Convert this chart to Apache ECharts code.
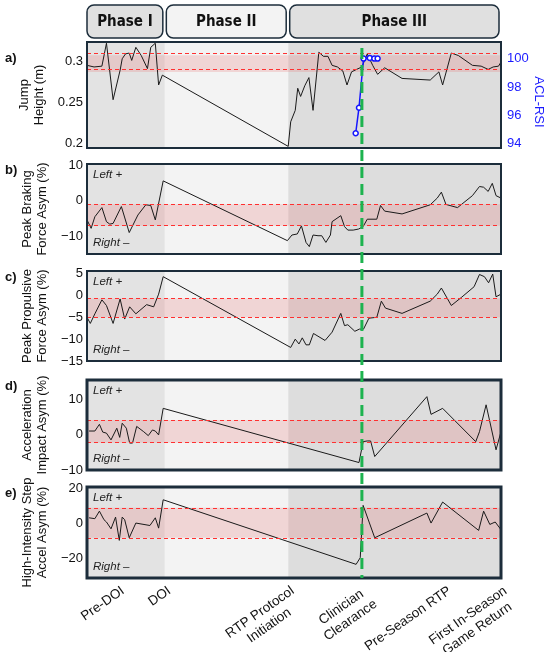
<!DOCTYPE html>
<html>
<head>
<meta charset="utf-8">
<script src="https://cdn.jsdelivr.net/npm/echarts@6/dist/echarts.min.js"></script>
<style>
  html, body { margin: 0; padding: 0; background: #fff; }
  #chart { width: 550px; height: 652px; }
</style>
</head>
<body>
<div id="chart"></div>
<script>
// x runs 0..100 over the whole timeline
const phaseNames = ['Phase I', 'Phase II', 'Phase III'];
const phaseBounds = [0, 18.8, 48.6, 100];
const phaseColors = ['#e3e3e3', '#f3f3f3', '#dddddd'];
const tickPos = [7.6, 18.8, 48.6, 66.4, 86.5, 100];
const tickLabels = ['Pre-DOI', 'DOI', 'RTP Protocol\nInitiation', 'Clinician\nClearance', 'Pre-Season RTP', 'First In-Season\nGame Return'];
const clearanceX = 66.4;

const jumpHeight = [[0,0.295],[1.7,0.293],[3.6,0.294],[4.7,0.322],[6.3,0.253],[8.0,0.289],[8.5,0.303],[9.3,0.309],[10.2,0.310],[10.8,0.301],[11.8,0.317],[13.1,0.307],[14.6,0.291],[15.4,0.317],[16.5,0.322],[17.3,0.271],[18.2,0.283],
  [48.6,0.196],[49.2,0.226],[50.3,0.240],[50.9,0.267],[51.6,0.257],[52.6,0.270],[53.6,0.280],[54.6,0.240],[56.0,0.311],[57.1,0.306],[58.2,0.306],[59.2,0.295],[60.5,0.293],[61.8,0.288],[62.8,0.271],[63.9,0.287],[65.1,0.290],[66.4,0.293],[67.7,0.309],[69.0,0.295],[70.2,0.284],[71.9,0.292],[76.1,0.279],[82.9,0.277],[85.0,0.287],[85.9,0.271],[88.0,0.310],[89.7,0.307],[93.1,0.295],[95.2,0.294],[96.9,0.290],[98.1,0.293],[99.4,0.294],[100,0.299]];
const aclRsi = [[64.9,94.74],[65.7,96.54],[66.8,100],[68.3,100.05],[69.4,100],[70.2,100]];
const brakingAsym = [[0,-5.4],[1.0,-7.8],[1.9,-4.5],[3.6,-1.9],[4.7,-5.9],[5.5,-6.6],[6.3,-6.4],[8.3,-1.6],[10.2,-9.0],[12.3,-4.0],[14.2,-1.1],[15.4,-1.3],[16.5,-5.4],[18.4,5.7],
  [48.4,-11.3],[49.5,-9.7],[50.8,-9.4],[51.8,-7.1],[52.9,-11.8],[53.7,-13.0],[54.6,-9.7],[55.8,-9.9],[56.7,-9.9],[57.7,-11.8],[58.8,-9.7],[59.2,-5.9],[61.3,-4.2],[62.2,-7.3],[63.0,-8.3],[64.3,-8.3],[65.6,-8.0],[66.7,-7.3],[67.7,-5.2],[70.0,-5.2],[70.9,-1.3],[71.9,-2.9],[76.1,-3.7],[82.9,-1.1],[84.6,0.8],[85.6,2.5],[86.7,-1.0],[89.5,-1.9],[93.1,1.5],[94.8,4.1],[95.8,3.9],[96.9,2.7],[97.9,5.0],[98.8,1.5],[100,0.8]];
const propulsiveAsym = [[0,-5.0],[0.8,-6.4],[1.9,-4.2],[3.6,-1.0],[4.7,-2.3],[6.3,-6.4],[8.0,-0.8],[9.1,-5.4],[10.3,-2.6],[11.8,-4.2],[14.4,-2.1],[16.1,-2.6],[17.3,0.3],[18.4,4.3],
  [49.2,-11.9],[50.3,-10.0],[51.2,-11.1],[52.0,-9.7],[52.9,-11.3],[53.7,-11.3],[54.7,-8.7],[57.5,-10.3],[59.2,-8.4],[61.3,-4.1],[62.2,-6.9],[63.0,-6.7],[64.7,-8.2],[65.8,-7.7],[66.8,-7.7],[68.1,-5.2],[70.0,-5.0],[71.1,-1.3],[72.1,-2.9],[76.1,-4.1],[82.9,-1.3],[84.6,0.3],[85.6,1.7],[88.0,-2.3],[90.5,-0.4],[93.5,2.0],[94.8,4.8],[96.0,4.3],[97.0,2.9],[98.0,4.9],[98.8,-0.3],[100,0.3]];
const accelImpactAsym = [[0.5,1.0],[1.9,1.0],[3.0,2.9],[3.8,0.7],[4.7,0.4],[5.8,-1.5],[7.2,1.8],[7.9,-0.8],[8.5,3.2],[9.5,1.8],[10.3,-2.4],[11.0,-2.4],[12.0,2.3],[13.7,0.8],[14.8,-0.3],[15.8,1.3],[16.5,1.0],[17.3,-0.1],[18.4,7.4],
  [65.7,-7.9],[66.7,-2.0],[67.7,-1.8],[68.5,-1.8],[69.5,-6.2],[82.1,10.7],[83.1,5.7],[85.9,7.4],[93.9,-2.0],[94.8,0.8],[96.4,8.4],[98.8,-4.3],[100,0.8]];
const stepAccelAsym = [[0.5,3.4],[1.9,2.9],[3.0,7.2],[4.1,2.3],[4.7,1.0],[5.8,-2.9],[6.9,3.8],[7.8,-9.5],[8.5,3.8],[9.1,2.3],[10.2,-8.0],[11.8,0.4],[15.2,-1.0],[16.5,3.4],[17.3,-2.5],[18.4,13.7],
  [65.0,-23.2],[66.0,-19.4],[66.7,10.5],[69.5,-8.0],[82.1,6.1],[83.1,0.4],[85.9,12.4],[94.6,-3.8],[95.8,7.2],[97.3,-0.4],[98.6,1.0],[100,-3.4]];

// normal-range bands [low, high]
const jumpBand = [0.2868, 0.3072];
const brakingBand = [-7.05, -0.95];
const propulsiveBand = [-5.0, -0.7];
const impactBand = [-2.3, 4.1];
const stepBand = [-8.0, 9.1];

const jumpTicks = [0.2, 0.25, 0.3];
const aclTicks = [94, 96, 98, 100];
const brakingTicks = [-10, 0, 10];
const propulsiveTicks = [-15, -10, -5, 0, 5];
const impactTicks = [-10, 0, 10];
const stepTicks = [-20, 0, 20];

const FONT = '"Liberation Sans", Arial, sans-serif';
const panels = [
  { letter: 'a)', name: 'Jump\nHeight (m)', data: jumpHeight, band: jumpBand, ticks: jumpTicks, min: 0.194, max: 0.3235, top: 42, height: 106, border: 2, lr: false },
  { letter: 'b)', name: 'Peak Braking\nForce Asym (%)', data: brakingAsym, band: brakingBand, ticks: brakingTicks, min: -15.1, max: 10.5, top: 164, height: 90, border: 2, lr: true },
  { letter: 'c)', name: 'Peak Propulsive\nForce Asym (%)', data: propulsiveAsym, band: propulsiveBand, ticks: propulsiveTicks, min: -15, max: 5.6, top: 271, height: 90, border: 2, lr: true },
  { letter: 'd)', name: 'Acceleration\nImpact Asym (%)', data: accelImpactAsym, band: impactBand, ticks: impactTicks, min: -10, max: 15.4, top: 380, height: 90, border: 3, lr: true },
  { letter: 'e)', name: 'High-Intensity Step\nAccel Asym (%)', data: stepAccelAsym, band: stepBand, ticks: stepTicks, min: -31, max: 21, top: 487, height: 91, border: 3, lr: true }
];

const fmtNum = v => String(v).replace('-', '\u2212');

const chart = echarts.init(document.getElementById('chart'), null, { renderer: 'canvas' });

const grid = [], xAxis = [], yAxis = [], series = [];
panels.forEach((p, i) => {
  grid.push({ left: 87, right: 49, top: p.top, height: p.height, show: true, z: 10,
    outerBoundsMode: 'none', containLabel: false,
    backgroundColor: 'transparent', borderColor: '#1c2d3b', borderWidth: p.border });
  const last = i === panels.length - 1;
  xAxis.push({
    type: 'value', gridIndex: i, min: 0, max: 100,
    axisLine: { show: false },
    axisTick: { show: false, customValues: tickPos },
    splitLine: { show: true, lineStyle: { color: 'rgba(255,255,255,0.6)', width: 1 } },
    axisLabel: {
      show: last, customValues: tickPos, rotate: 35, margin: 5, verticalAlign: 'top',
      formatter: v => {
        const k = tickPos.findIndex(t => Math.abs(t - v) < 0.01);
        return k >= 0 ? tickLabels[k].split('\n').map(s => '{c|' + s + '}').join('\n') : '';
      },
      rich: { c: { align: 'center', fontSize: 13.5, fontFamily: FONT, color: '#111', lineHeight: 16 } }
    }
  });
  yAxis.push({
    type: 'value', gridIndex: i, min: p.min, max: p.max,
    name: p.name, nameLocation: 'middle', nameGap: 26,
    nameTextStyle: { fontSize: 13, fontFamily: FONT, color: '#111', lineHeight: 15 },
    axisLine: { show: false },
    axisTick: { show: false, customValues: p.ticks },
    splitLine: { show: true, lineStyle: { color: 'rgba(255,255,255,0.6)', width: 1 } },
    axisLabel: { customValues: p.ticks, margin: 4, fontSize: 13, fontFamily: FONT, color: '#111', formatter: fmtNum }
  });
  const yi = yAxis.length - 1;
  // phase shading
  series.push({
    type: 'line', xAxisIndex: i, yAxisIndex: yi, data: [], z: 1, silent: true,
    markArea: { silent: true, data: phaseNames.map((n, k) => [
      { xAxis: phaseBounds[k], itemStyle: { color: phaseColors[k] } },
      { xAxis: phaseBounds[k + 1] }
    ]) }
  });
  // measurement line + band
  series.push({
    type: 'line', xAxisIndex: i, yAxisIndex: yi, data: p.data, z: 3,
    showSymbol: false, symbol: 'none', animation: false,
    lineStyle: { color: '#1a1a1a', width: 1 },
    markArea: { silent: true, itemStyle: { color: 'rgba(232,110,110,0.22)' },
      data: [[{ yAxis: p.band[0] }, { yAxis: p.band[1] }]] },
    markLine: { silent: true, symbol: 'none', label: { show: false },
      lineStyle: { color: '#ff3030', opacity: 1, type: [4, 3], width: 1.2 },
      data: [{ yAxis: p.band[0] }, { yAxis: p.band[1] }] }
  });
});

// ACL-RSI on the right of panel a (its title is placed below as rotated text)
yAxis.push({
  type: 'value', gridIndex: 0, position: 'right', min: 93.7, max: 101.17,
  axisLine: { show: false },
  axisTick: { show: true, inside: true, length: 3, customValues: aclTicks, lineStyle: { color: '#9a9ad8' } },
  splitLine: { show: false },
  axisLabel: { customValues: aclTicks, margin: 6, fontSize: 13, fontFamily: FONT, color: '#1a1aff' }
});
series.push({
  type: 'line', xAxisIndex: 0, yAxisIndex: yAxis.length - 1, data: aclRsi, z: 6,
  symbol: 'circle', symbolSize: 5, animation: false,
  lineStyle: { color: '#1515ff', width: 1.5 },
  itemStyle: { color: '#ffffff', borderColor: '#1515ff', borderWidth: 1.5 }
});

chart.setOption({
  animation: false,
  textStyle: { fontFamily: FONT },
  grid, xAxis, yAxis, series
});

// overlay: phase header boxes, panel letters, side notes, clearance marker
const px = v => chart.convertToPixel({ xAxisIndex: 0 }, v);
const graphic = [];
phaseNames.forEach((n, k) => {
  const x0 = px(phaseBounds[k]) + (k === 0 ? 0 : 1.5);
  const x1 = px(phaseBounds[k + 1]) - 2;
  graphic.push({ type: 'rect', z: 20,
    shape: { x: x0, y: 5, width: x1 - x0, height: 33, r: 7 },
    style: { fill: k === 1 ? '#f3f3f3' : '#e0e0e0', stroke: '#1c2d3b', lineWidth: 1.5 } });
  graphic.push({ type: 'text', z: 21, x: (x0 + x1) / 2, y: 22,
    style: { text: n, font: 'bold 15px "Liberation Sans Narrow", "DejaVu Sans Condensed", sans-serif', fill: '#111', align: 'center', verticalAlign: 'middle' } });
});
panels.forEach(p => {
  graphic.push({ type: 'text', z: 21, x: 5, y: p.top + (p.letter === 'a)' ? 16 : 6),
    style: { text: p.letter, font: 'bold 13px ' + FONT, fill: '#111', verticalAlign: 'middle' } });
  if (p.lr) {
    graphic.push({ type: 'text', z: 21, x: 93, y: p.top + 11,
      style: { text: 'Left +', font: 'italic 11.5px ' + FONT, fill: '#222', verticalAlign: 'middle' } });
    graphic.push({ type: 'text', z: 21, x: 93, y: p.top + p.height - 11,
      style: { text: 'Right \u2013', font: 'italic 11.5px ' + FONT, fill: '#222', verticalAlign: 'middle' } });
  }
});
graphic.push({ type: 'text', z: 21, x: 539, y: 102, rotation: -Math.PI / 2,
  style: { text: 'ACL-RSI', font: '13px ' + FONT, fill: '#1a1aff', align: 'center', verticalAlign: 'middle' } });
const gx = px(clearanceX);
const last = panels[panels.length - 1];
graphic.push({ type: 'line', z: 15,
  shape: { x1: gx, y1: 48, x2: gx, y2: last.top + last.height },
  style: { stroke: '#1db34f', lineWidth: 3, lineDash: [11, 6] } });

chart.setOption({ graphic });
</script>
</body>
</html>
